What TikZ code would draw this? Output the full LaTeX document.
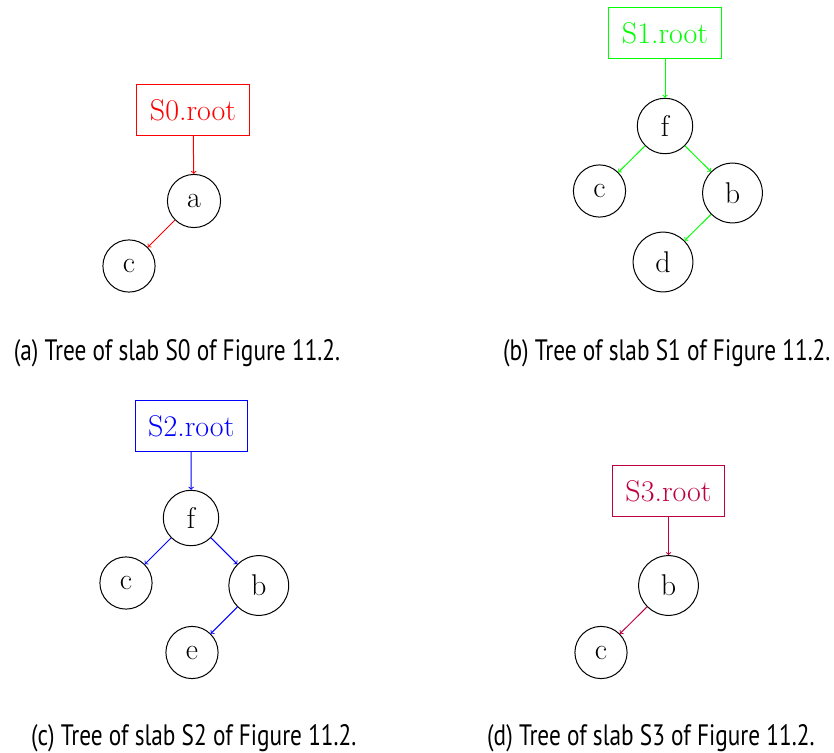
\documentclass[tikz,border=0pt]{standalone}
\usepackage{fontspec}
\newfontfamily\capfont[FakeStretch=0.79]{PT Sans}
\tikzset{
	vertex/.style={circle,draw=black,inner sep=12pt,font=\fontsize{30}{36}\selectfont},
	rootbox/.style={draw,inner xsep=13pt,inner ysep=15pt,font=\fontsize{30}{36}\selectfont},
	subcap/.style={anchor=base west,inner sep=0pt,font=\capfont\fontsize{29.5}{35}\selectfont}
}
\begin{document}
\begin{tikzpicture}[x=1pt,y=-1pt,line width=1pt]
		\useasboundingbox (0,0) rectangle (834,752);
		% (a) slab S0
		\node[rootbox,red] (r0) at (193,110) {S0.root};
		\node[vertex] (s0a) at (194,201) {a};
		\node[vertex] (s0c) at (129,266) {c};
		\draw[red,->] (r0)--(s0a);
		\draw[red,->] (s0a)--(s0c);
		\node[subcap] (cap0) at (13.3,360.7) {(a) Tree of slab S0 of Figure 11.2.};
		% (b) slab S1
		\node[rootbox,green] (r1) at (665,33) {S1.root};
		\node[vertex] (s1f) at (665,126) {f};
		\node[vertex] (s1c) at (599.5,191) {c};
		\node[vertex] (s1b) at (732.5,193) {b};
		\node[vertex] (s1d) at (663,262) {d};
		\draw[green,->] (r1)--(s1f);
		\draw[green,->] (s1f)--(s1c);
		\draw[green,->] (s1f)--(s1b);
		\draw[green,->] (s1b)--(s1d);
		\node[subcap] (cap1) at (502.7,360.7) {(b) Tree of slab S1 of Figure 11.2.};
		% (c) slab S2
		\node[rootbox,blue] (r2) at (191.3,425.8) {S2.root};
		\node[vertex] (s2f) at (191,518) {f};
		\node[vertex] (s2c) at (126,583) {c};
		\node[vertex] (s2b) at (258.8,585.5) {b};
		\node[vertex] (s2e) at (192,652.5) {e};
		\draw[blue,->] (r2)--(s2f);
		\draw[blue,->] (s2f)--(s2c);
		\draw[blue,->] (s2f)--(s2b);
		\draw[blue,->] (s2b)--(s2e);
		\node[subcap] (cap2) at (30.7,745) {(c) Tree of slab S2 of Figure 11.2.};
		% (d) slab S3
		\node[rootbox,purple] (r3) at (668.5,491) {S3.root};
		\node[vertex] (s3b) at (668.5,585.5) {b};
		\node[vertex] (s3c) at (601,652.5) {c};
		\draw[purple,->] (r3)--(s3b);
		\draw[purple,->] (s3b)--(s3c);
		\node[subcap] (cap3) at (486.7,745) {(d) Tree of slab S3 of Figure 11.2.};
	\end{tikzpicture}
\end{document}
